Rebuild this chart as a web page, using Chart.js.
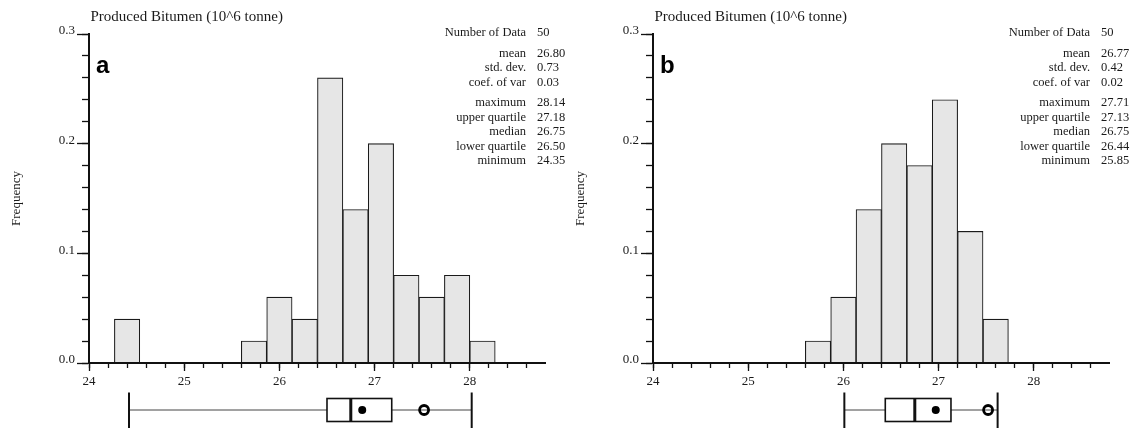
<!DOCTYPE html>
<html>
<head>
<meta charset="utf-8">
<script src="https://cdn.jsdelivr.net/npm/chart.js@4/dist/chart.umd.min.js"></script>
<style>
  body { margin: 0; background: #fff; }
  #wrap { position: relative; width: 1134px; height: 428px; overflow: hidden; }
  canvas { position: absolute; top: 0; }
  #chartA { left: 0; }
  #chartB { left: 564px; }
</style>
</head>
<body>
<div id="wrap">
  <canvas id="chartA" width="590" height="428"></canvas>
  <canvas id="chartB" width="570" height="428"></canvas>
</div>
<script>
// class edges of the histograms (class width 4/15)
const binEdgesA = [24.267, 24.533, 24.8, 25.067, 25.333, 25.6, 25.867, 26.133, 26.4, 26.667, 26.933, 27.2, 27.467, 27.733, 28.0, 28.267];
const freqA = [0.04, 0, 0, 0, 0, 0.02, 0.06, 0.04, 0.26, 0.14, 0.20, 0.08, 0.06, 0.08, 0.02];
const binEdgesB = [25.6, 25.867, 26.133, 26.4, 26.667, 26.933, 27.2, 27.467, 27.733];
const freqB = [0.02, 0.06, 0.14, 0.20, 0.18, 0.24, 0.12, 0.04];

// box plot: whisker low, lower quartile, median, upper quartile, whisker high
const boxA = [24.42, 26.50, 26.75, 27.18, 28.02];
const meanA = 26.87;
const markA = 27.52;
const boxB = [26.01, 26.44, 26.75, 27.13, 27.62];
const meanB = 26.97;
const markB = 27.52;

const xTicks = [24, 25, 26, 27, 28];
const yTicks = [0.0, 0.1, 0.2, 0.3];

const statNames = ["Number of Data", "mean", "std. dev.", "coef. of var", "maximum", "upper quartile", "median", "lower quartile", "minimum"];
const statsA = ["50", "26.80", "0.73", "0.03", "28.14", "27.18", "26.75", "26.50", "24.35"];
const statsB = ["50", "26.77", "0.42", "0.02", "27.71", "27.13", "26.75", "26.44", "25.85"];

const titleText = "Produced Bitumen (10^6 tonne)";
const yTitle = "Frequency";

const SERIF = "'Liberation Serif', 'Times New Roman', serif";
const INK = "#1a1a1a";

const line = (ctx, x1, y1, x2, y2) => {
    ctx.beginPath();
    ctx.moveTo(x1, y1);
    ctx.lineTo(x2, y2);
    ctx.stroke();
};

// draws the title, panel letter, statistics and the box plot under the axis
const makeExtras = (letter, box, mean, mark, stats) => ({
    id: "extras",
    afterDraw(chart) {
        const {ctx, chartArea} = chart;
        const xs = chart.scales.x;
        const px = v => xs.getPixelForValue(v);
        const left = chartArea.left;
        ctx.save();

        ctx.fillStyle = INK;
        ctx.textBaseline = "middle";
        ctx.textAlign = "left";
        ctx.font = "15px " + SERIF;
        ctx.fillText(titleText, left + 1.5, 17);

        ctx.textBaseline = "alphabetic";
        ctx.font = "bold 24px 'Liberation Sans', Arial, sans-serif";
        ctx.fillStyle = "#000";
        ctx.fillText(letter, left + 7, 73);

        ctx.fillStyle = INK;
        ctx.font = "12.5px " + SERIF;
        ctx.textBaseline = "middle";
        let y = 33;
        statNames.forEach((name, i) => {
            if (i === 1 || i === 4) y += 5.7;     //gap between groups
            ctx.textAlign = "right";
            ctx.fillText(name, left + 437, y);
            ctx.textAlign = "left";
            ctx.fillText(stats[i], left + 448, y);
            y += 14.6;
        });

        // box plot
        const yc = chartArea.bottom + 47;
        const h = 11.5;
        ctx.strokeStyle = "#444";
        ctx.lineWidth = 1;
        line(ctx, px(box[0]), yc, px(box[1]), yc);
        line(ctx, px(box[3]), yc, px(box[4]), yc);

        ctx.strokeStyle = "#111";
        ctx.lineWidth = 2;
        line(ctx, px(box[0]), yc - 17.5, px(box[0]), yc + 19);
        line(ctx, px(box[4]), yc - 17.5, px(box[4]), yc + 19);

        ctx.fillStyle = "#fff";
        ctx.lineWidth = 1.6;
        ctx.fillRect(px(box[1]), yc - h, px(box[3]) - px(box[1]), 2 * h);
        ctx.strokeRect(px(box[1]), yc - h, px(box[3]) - px(box[1]), 2 * h);
        ctx.lineWidth = 3;
        line(ctx, px(box[2]), yc - h, px(box[2]), yc + h);

        ctx.fillStyle = "#000";
        ctx.beginPath();
        ctx.arc(px(mean), yc, 4, 0, Math.PI * 2);
        ctx.fill();

        ctx.lineWidth = 2.8;
        ctx.strokeStyle = "#000";
        ctx.beginPath();
        ctx.arc(px(mark), yc, 4.5, 0, Math.PI * 2);
        ctx.stroke();

        ctx.restore();
    }
});

const makeChart = (canvasId, letter, edges, freq, box, mean, mark, stats, padRight) => {
    const points = freq.map((f, i) => ({x: (edges[i] + edges[i + 1]) / 2, y: f}));
    const axisBorder = {color: "#111", width: 2, z: 1};
    return new Chart(document.getElementById(canvasId), {
        type: "bar",
        data: {
            datasets: [{
                data: points,
                xAxisID: "x",
                yAxisID: "y",
                backgroundColor: "#e6e6e6",
                borderColor: "#1a1a1a",
                borderWidth: 1.1,
                borderSkipped: "start",
                barThickness: "flex",
                categoryPercentage: 1,
                barPercentage: 1
            }]
        },
        options: {
            responsive: false,
            animation: false,
            events: [],
            layout: {padding: {top: 34, right: padRight, left: 0, bottom: 0}},
            plugins: {
                legend: {display: false},
                tooltip: {enabled: false},
                title: {display: false}
            },
            scales: {
                x: {            //minor ticks every 0.2, no labels
                    type: "linear", axis: "x", position: "bottom", weight: 0,
                    min: 24, max: 28.79, offset: false,
                    border: axisBorder,
                    grid: {offset: false, drawOnChartArea: false, tickLength: 5, tickColor: "#111", tickWidth: 1.3},
                    ticks: {stepSize: 0.2, includeBounds: false, display: false},
                    afterFit: s => { s.height = 0; }
                },
                xMajor: {
                    type: "linear", axis: "x", position: "bottom", weight: 1,
                    min: 24, max: 28.79, offset: false,
                    border: axisBorder,
                    grid: {offset: false, drawOnChartArea: false, tickLength: 8, tickColor: "#111", tickWidth: 1.3},
                    afterBuildTicks: s => { s.ticks = xTicks.map(v => ({value: v})); },
                    ticks: {
                        font: {family: SERIF, size: 13}, color: INK, padding: 3,
                        maxRotation: 0, autoSkip: false,
                        callback: v => String(v)
                    },
                    afterFit: s => { s.height = 65; }
                },
                y: {            //minor ticks every 0.02, sits next to the plot
                    type: "linear", axis: "y", position: "left", weight: 0,
                    min: 0, max: 0.3,
                    border: axisBorder,
                    grid: {drawOnChartArea: false, tickLength: 7, tickColor: "#111", tickWidth: 1.3},
                    ticks: {stepSize: 0.02, display: false},
                    afterFit: s => { s.width = 0; }
                },
                yMajor: {       //labelled ticks, holds the label room
                    type: "linear", axis: "y", position: "left", weight: 1,
                    min: 0, max: 0.3,
                    border: axisBorder,
                    grid: {drawOnChartArea: false, tickLength: 12, tickColor: "#111", tickWidth: 1.3},
                    afterBuildTicks: s => { s.ticks = yTicks.map(v => ({value: v})); },
                    ticks: {
                        font: {family: SERIF, size: 13}, color: INK, padding: 2, labelOffset: -3,
                        autoSkip: false,
                        callback: v => v.toFixed(1)
                    },
                    title: {display: true, text: yTitle, color: INK, font: {family: SERIF, size: 13}, padding: {top: 9, bottom: 0}},
                    afterFit: s => { s.width = 89; }
                }
            }
        },
        plugins: [makeExtras(letter, box, mean, mark, stats)]
    });
};

makeChart("chartA", "a", binEdgesA, freqA, boxA, meanA, markA, statsA, 45);
makeChart("chartB", "b", binEdgesB, freqB, boxB, meanB, markB, statsB, 25);
</script>
</body>
</html>
